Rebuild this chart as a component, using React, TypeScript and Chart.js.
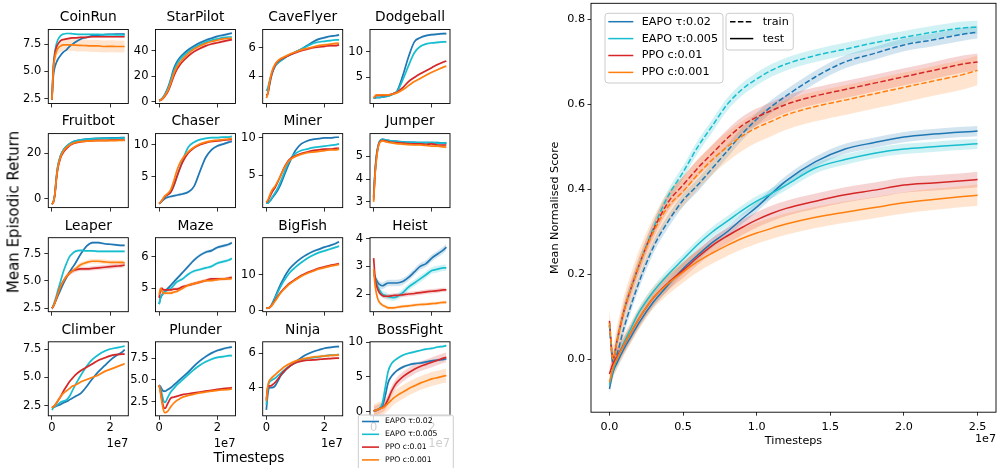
import React, { useEffect, useRef } from 'react';
import { Chart, registerables } from 'chart.js';

Chart.register(...registerables);

const FONT = "'DejaVu Sans', sans-serif";

// ---------- shared ----------
const seriesNames = ['EAPO τ:0.02', 'EAPO τ:0.005', 'PPO c:0.01', 'PPO c:0.001'];
const seriesColors = ['#1f77b4', '#17becf', '#d62728', '#ff7f0e'];
const seriesBands = ['rgba(31,119,180,0.2)', 'rgba(23,190,207,0.2)', 'rgba(214,39,40,0.2)', 'rgba(255,127,14,0.2)'];

// ---------- small multiples (timesteps in millions) ----------
const steps = [0, 0.5, 1, 1.5, 2, 3, 4, 5, 6, 7, 8, 10, 12, 14, 16, 18, 20, 22, 24, 25];
const smallXTickValues = [0, 20];
const smallXTickLabels = ['0', '2'];

const gameNames = ['CoinRun', 'StarPilot', 'CaveFlyer', 'Dodgeball', 'Fruitbot', 'Chaser', 'Miner', 'Jumper',
  'Leaper', 'Maze', 'BigFish', 'Heist', 'Climber', 'Plunder', 'Ninja', 'BossFight'];

// each: [EAPO τ:0.02, EAPO τ:0.005, PPO c:0.01, PPO c:0.001]
const coinRun = [
  [2.4, 4.6, 5.4, 5.8, 6.1, 6.5, 6.8, 7.0, 7.3, 7.5, 7.7, 8.0, 8.15, 8.3, 8.35, 8.4, 8.42, 8.44, 8.45, 8.45],
  [2.4, 5.5, 6.8, 7.5, 7.9, 8.3, 8.45, 8.5, 8.5, 8.48, 8.45, 8.42, 8.42, 8.42, 8.42, 8.4, 8.4, 8.38, 8.38, 8.35],
  [2.4, 5.4, 6.6, 7.2, 7.5, 7.85, 7.95, 8.0, 8.05, 8.1, 8.1, 8.15, 8.15, 8.2, 8.2, 8.2, 8.2, 8.2, 8.2, 8.2],
  [2.4, 5.2, 6.3, 6.8, 7.1, 7.35, 7.45, 7.45, 7.45, 7.45, 7.42, 7.4, 7.38, 7.35, 7.35, 7.3, 7.32, 7.3, 7.3, 7.3],
];
const starPilot = [
  [1, 1.5, 2.5, 4, 6, 11, 18, 26, 31, 34.5, 37, 41, 44, 46.5, 48.5, 50, 51.5, 52.5, 53.5, 54],
  [1, 1.5, 2.5, 4, 5.5, 10, 16.5, 24, 29, 33, 35.5, 39.5, 42.5, 45, 47, 48.5, 49.5, 50.5, 51, 51],
  [1, 1.4, 2, 3, 4.5, 8, 13.5, 20, 25, 28.5, 31.5, 36, 39.5, 42, 44, 45.5, 46.5, 47.5, 48.5, 49],
  [1, 1.5, 2.2, 3.5, 5, 9, 15, 22, 27, 30.5, 33.5, 38, 41.5, 44, 46, 47.5, 48.5, 49.5, 50, 50],
];
const caveFlyer = [
  [2.7, 2.8, 3.3, 3.8, 4.2, 4.7, 4.95, 5.1, 5.25, 5.4, 5.5, 5.7, 5.9, 6.15, 6.4, 6.6, 6.7, 6.8, 6.85, 6.9],
  [3.0, 3.2, 3.6, 4.0, 4.3, 4.75, 4.95, 5.1, 5.25, 5.4, 5.5, 5.7, 5.9, 6.1, 6.3, 6.4, 6.45, 6.5, 6.55, 6.55],
  [2.7, 2.8, 3.4, 3.9, 4.3, 4.8, 5.05, 5.2, 5.3, 5.4, 5.5, 5.65, 5.8, 5.9, 6.0, 6.05, 6.1, 6.15, 6.15, 6.2],
  [2.5, 2.8, 3.5, 4.0, 4.4, 4.85, 5.1, 5.25, 5.35, 5.45, 5.55, 5.7, 5.85, 5.95, 6.05, 6.15, 6.2, 6.25, 6.3, 6.3],
];
const dodgeball = [
  [1, 1.0, 1.1, 1.1, 1.1, 1.2, 1.3, 1.4, 1.6, 1.9, 2.3, 5.3, 9.0, 11.9, 12.7, 13.1, 13.3, 13.4, 13.5, 13.5],
  [1, 1.0, 1.1, 1.1, 1.1, 1.2, 1.3, 1.4, 1.6, 1.9, 2.2, 4.5, 7.3, 9.8, 11.0, 11.5, 11.7, 11.8, 11.9, 11.9],
  [1, 1.3, 1.5, 1.5, 1.5, 1.5, 1.5, 1.6, 1.7, 1.9, 2.1, 3.0, 4.2, 5.0, 5.7, 6.3, 6.9, 7.5, 8.0, 8.2],
  [1, 1.4, 1.6, 1.6, 1.6, 1.6, 1.6, 1.6, 1.7, 1.8, 2.0, 2.6, 3.4, 4.2, 4.8, 5.4, 6.0, 6.5, 7.0, 7.2],
];
const fruitbot = [
  [-2.5, -1.5, 2, 9, 14, 19, 21.5, 23, 24, 24.8, 25.3, 25.8, 26.2, 26.4, 26.5, 26.6, 26.7, 26.7, 26.8, 26.8],
  [-2.5, -1.5, 2, 9, 14, 19, 21.5, 23, 24, 24.8, 25.3, 25.8, 26.1, 26.3, 26.4, 26.5, 26.5, 26.5, 26.6, 26.6],
  [-2.5, -1.5, 1.5, 8, 13, 18, 20.5, 22, 23.2, 24, 24.5, 25, 25.3, 25.5, 25.6, 25.6, 25.7, 25.7, 25.7, 25.7],
  [-2.5, -1.5, 1.8, 8.5, 13.5, 18.5, 21, 22.5, 23.5, 24.2, 24.7, 25.1, 25.3, 25.4, 25.5, 25.5, 25.5, 25.5, 25.6, 25.6],
];
const chaser = [
  [0.8, 1.0, 1.2, 1.4, 1.6, 1.8, 1.9, 2.0, 2.1, 2.2, 2.3, 2.6, 3.5, 5.8, 8.0, 9.2, 9.8, 10.1, 10.4, 10.5],
  [0.8, 1.0, 1.3, 1.6, 1.9, 2.2, 2.6, 3.5, 4.8, 6.2, 7.5, 9.6, 10.4, 10.8, 11.0, 11.1, 11.1, 11.2, 11.2, 11.3],
  [0.8, 1.0, 1.3, 1.6, 1.9, 2.2, 2.6, 3.6, 4.9, 6.1, 7.2, 8.7, 9.5, 10.0, 10.3, 10.5, 10.6, 10.7, 10.8, 10.8],
  [0.8, 1.0, 1.3, 1.7, 2.0, 2.4, 3.0, 4.3, 5.8, 7.0, 7.8, 8.9, 9.6, 10.1, 10.4, 10.6, 10.7, 10.8, 10.9, 11.0],
];
const miner = [
  [1.2, 1.2, 1.4, 1.6, 1.9, 2.4, 3.0, 3.8, 4.8, 5.8, 6.7, 8.3, 9.2, 9.6, 9.8, 9.9, 10.0, 10.0, 10.1, 10.1],
  [1.2, 1.2, 1.4, 1.7, 2.0, 2.6, 3.3, 4.2, 5.2, 6.2, 7.0, 7.9, 8.3, 8.5, 8.7, 8.8, 8.9, 9.0, 9.1, 9.2],
  [1.3, 1.5, 1.9, 2.3, 2.7, 3.3, 4.1, 5.0, 5.9, 6.6, 7.1, 7.6, 7.9, 8.1, 8.3, 8.4, 8.5, 8.5, 8.6, 8.6],
  [1.3, 1.6, 2.1, 2.6, 3.0, 3.5, 4.2, 5.0, 5.8, 6.5, 7.0, 7.5, 7.8, 8.0, 8.1, 8.2, 8.3, 8.4, 8.4, 8.5],
];
const jumper = [
  [3.2, 4.3, 5.0, 5.4, 5.65, 5.75, 5.72, 5.7, 5.68, 5.67, 5.66, 5.64, 5.62, 5.62, 5.6, 5.6, 5.6, 5.6, 5.58, 5.58],
  [3.2, 4.4, 5.1, 5.45, 5.65, 5.75, 5.72, 5.7, 5.68, 5.67, 5.65, 5.63, 5.62, 5.6, 5.6, 5.6, 5.6, 5.58, 5.58, 5.6],
  [3.1, 4.3, 5.0, 5.4, 5.6, 5.7, 5.68, 5.65, 5.62, 5.6, 5.6, 5.58, 5.56, 5.55, 5.55, 5.52, 5.55, 5.5, 5.5, 5.5],
  [3.0, 4.2, 4.9, 5.35, 5.58, 5.68, 5.65, 5.62, 5.6, 5.58, 5.56, 5.54, 5.52, 5.5, 5.5, 5.48, 5.45, 5.45, 5.42, 5.4],
];
const leaper = [
  [2.5, 2.7, 3.0, 3.3, 3.6, 4.2, 4.8, 5.3, 5.8, 6.2, 6.6, 7.5, 8.2, 8.5, 8.5, 8.4, 8.35, 8.3, 8.25, 8.25],
  [2.5, 2.8, 3.2, 3.6, 4.1, 5.0, 5.9, 6.6, 7.2, 7.5, 7.7, 7.8, 7.75, 7.75, 7.7, 7.7, 7.7, 7.7, 7.7, 7.7],
  [2.5, 2.7, 3.0, 3.4, 3.8, 4.5, 5.0, 5.4, 5.7, 5.9, 6.0, 6.1, 6.1, 6.15, 6.2, 6.25, 6.3, 6.35, 6.4, 6.45],
  [2.5, 2.7, 3.0, 3.4, 3.8, 4.5, 5.0, 5.4, 5.7, 5.9, 6.1, 6.5, 6.7, 6.8, 6.8, 6.75, 6.7, 6.7, 6.7, 6.65],
];
const maze = [
  [4.5, 4.7, 4.8, 4.85, 4.9, 5.0, 5.1, 5.2, 5.3, 5.4, 5.5, 5.7, 5.9, 6.05, 6.15, 6.2, 6.3, 6.35, 6.4, 6.45],
  [4.5, 4.7, 4.8, 4.85, 4.9, 4.95, 5.0, 5.1, 5.2, 5.25, 5.3, 5.45, 5.55, 5.6, 5.65, 5.7, 5.8, 5.85, 5.9, 5.95],
  [4.7, 4.95, 5.0, 4.95, 4.95, 4.95, 4.95, 4.98, 4.98, 5.0, 5.05, 5.1, 5.15, 5.2, 5.25, 5.3, 5.3, 5.3, 5.33, 5.35],
  [4.8, 5.0, 4.9, 4.85, 4.85, 4.85, 4.85, 4.88, 4.9, 4.95, 5.0, 5.1, 5.15, 5.2, 5.25, 5.25, 5.28, 5.3, 5.3, 5.32],
];
const bigFish = [
  [0.8, 0.8, 0.9, 1.3, 2.0, 3.8, 5.7, 7.5, 9.0, 10.4, 11.6, 13.2, 14.5, 15.5, 16.3, 16.9, 17.5, 18.0, 18.6, 19.0],
  [0.8, 0.8, 0.9, 1.3, 1.9, 3.5, 5.2, 6.8, 8.2, 9.4, 10.5, 12.0, 13.3, 14.4, 15.3, 16.0, 16.5, 17.0, 17.5, 17.8],
  [0.8, 0.8, 0.9, 1.2, 1.7, 2.9, 4.1, 5.2, 6.1, 6.9, 7.6, 8.7, 9.7, 10.5, 11.1, 11.7, 12.1, 12.5, 12.8, 13.0],
  [0.8, 0.8, 0.9, 1.2, 1.6, 2.7, 3.9, 5.0, 5.9, 6.7, 7.4, 8.5, 9.5, 10.3, 10.9, 11.5, 11.9, 12.3, 12.6, 12.8],
];
const heist = [
  [2.7, 2.6, 2.5, 2.4, 2.35, 2.3, 2.35, 2.4, 2.4, 2.4, 2.4, 2.45, 2.6, 2.8, 3.0, 3.1, 3.3, 3.45, 3.6, 3.7],
  [2.8, 2.6, 2.4, 2.25, 2.15, 2.0, 1.95, 1.9, 1.88, 1.87, 1.9, 2.05, 2.25, 2.4, 2.55, 2.7, 2.85, 2.9, 2.95, 2.95],
  [3.3, 2.6, 2.3, 2.15, 2.05, 1.95, 1.92, 1.92, 1.93, 1.95, 1.95, 1.97, 2.0, 2.02, 2.05, 2.08, 2.1, 2.12, 2.15, 2.15],
  [2.9, 2.3, 2.0, 1.8, 1.7, 1.6, 1.55, 1.5, 1.5, 1.5, 1.52, 1.55, 1.57, 1.6, 1.62, 1.63, 1.65, 1.67, 1.7, 1.7],
];
const climber = [
  [2.3, 2.35, 2.4, 2.45, 2.5, 2.6, 2.75, 2.85, 3.0, 3.15, 3.3, 3.6, 4.2, 4.9, 5.5, 6.0, 6.5, 6.9, 7.2, 7.45],
  [2.1, 2.3, 2.4, 2.5, 2.6, 2.8, 2.9, 3.0, 3.3, 3.8, 4.3, 5.2, 6.0, 6.6, 7.0, 7.3, 7.5, 7.6, 7.7, 7.75],
  [2.3, 2.4, 2.5, 2.7, 2.9, 3.3, 3.8, 4.2, 4.6, 4.9, 5.2, 5.6, 5.9, 6.2, 6.5, 6.7, 6.9, 7.0, 7.05, 7.05],
  [2.3, 2.4, 2.5, 2.7, 2.9, 3.3, 3.6, 3.8, 4.0, 4.2, 4.3, 4.6, 4.8, 5.0, 5.2, 5.5, 5.7, 5.9, 6.1, 6.2],
];
const plunder = [
  [4.4, 4.2, 3.9, 3.7, 3.7, 3.9, 4.1, 4.4, 4.7, 5.0, 5.3, 5.9, 6.6, 7.2, 7.7, 8.1, 8.4, 8.6, 8.75, 8.8],
  [4.4, 4.0, 3.3, 2.6, 2.4, 3.0, 3.6, 4.0, 4.4, 4.7, 5.0, 5.6, 6.2, 6.7, 7.1, 7.4, 7.6, 7.7, 7.8, 7.8],
  [4.4, 3.6, 2.6, 1.9, 1.7, 2.3, 2.9, 3.0, 3.1, 3.2, 3.3, 3.4, 3.5, 3.6, 3.7, 3.8, 3.9, 4.0, 4.05, 4.1],
  [4.4, 3.4, 2.3, 1.5, 1.2, 1.4, 1.9, 2.3, 2.6, 2.8, 3.0, 3.2, 3.35, 3.5, 3.6, 3.7, 3.8, 3.85, 3.9, 3.95],
];
const ninja = [
  [2.7, 3.6, 4.0, 4.0, 4.0, 4.1, 4.4, 4.7, 4.9, 5.1, 5.25, 5.5, 5.75, 5.95, 6.1, 6.2, 6.3, 6.35, 6.4, 6.4],
  [3.0, 4.0, 4.3, 4.4, 4.45, 4.55, 4.7, 4.85, 5.0, 5.15, 5.25, 5.45, 5.6, 5.7, 5.75, 5.8, 5.85, 5.9, 5.9, 5.95],
  [3.3, 4.0, 4.1, 4.1, 4.15, 4.3, 4.5, 4.75, 4.95, 5.1, 5.25, 5.45, 5.55, 5.6, 5.62, 5.65, 5.68, 5.7, 5.72, 5.72],
  [3.2, 4.1, 4.4, 4.5, 4.6, 4.75, 4.9, 5.05, 5.2, 5.3, 5.4, 5.55, 5.65, 5.72, 5.78, 5.82, 5.85, 5.88, 5.9, 5.92],
];
const bossFight = [
  [0.1, 0.15, 0.2, 0.3, 0.4, 0.8, 2.3, 4.2, 5.0, 5.5, 5.9, 6.4, 6.7, 6.9, 7.0, 7.15, 7.3, 7.4, 7.5, 7.6],
  [0.1, 0.15, 0.2, 0.3, 0.4, 1.2, 3.5, 5.8, 6.8, 7.3, 7.6, 8.1, 8.4, 8.6, 8.8, 9.0, 9.1, 9.3, 9.4, 9.5],
  [0.1, 0.15, 0.2, 0.3, 0.4, 0.6, 1.0, 1.8, 2.8, 3.6, 4.2, 5.0, 5.6, 6.1, 6.5, 6.8, 7.1, 7.4, 7.7, 7.8],
  [0.1, 0.15, 0.2, 0.3, 0.4, 0.5, 0.8, 1.2, 1.6, 2.0, 2.3, 2.8, 3.3, 3.7, 4.1, 4.4, 4.7, 4.9, 5.1, 5.2],
];
const gameValues = [coinRun, starPilot, caveFlyer, dodgeball, fruitbot, chaser, miner, jumper,
  leaper, maze, bigFish, heist, climber, plunder, ninja, bossFight];

// half-width of the shaded band, per series
const gameSpreads = [
  [0.08, 0.06, 0.08, 0.55], [1, 1, 1, 1], [0.08, 0.08, 0.08, 0.08], [0.2, 0.2, 0.15, 0.15],
  [0.4, 0.4, 0.4, 0.4], [0.2, 0.15, 0.15, 0.15], [0.1, 0.1, 0.15, 0.15], [0.04, 0.04, 0.04, 0.05],
  [0.1, 0.1, 0.2, 0.2], [0.05, 0.05, 0.05, 0.05], [0.3, 0.3, 0.3, 0.3], [0.12, 0.12, 0.08, 0.06],
  [0.08, 0.08, 0.1, 0.08], [0.15, 0.15, 0.1, 0.1], [0.06, 0.06, 0.06, 0.08], [0.2, 0.15, 0.7, 1.0],
];
const gameYLimits = [
  [2.04, 8.87], [-1.3, 56.9], [2.12, 7.27], [-0.06, 14.3],
  [-4, 28.6], [0.17, 11.74], [0.6, 10.59], [2.75, 6.0],
  [2.19, 8.95], [4.26, 6.61], [-0.2, 20.1], [1.36, 4.04],
  [1.59, 8.14], [0.85, 9.41], [2.35, 6.68], [-0.61, 10.05],
];
const gameYTickLabels = [
  ['2.5', '5.0', '7.5'], ['0', '20', '40'], ['4', '6'], ['5', '10'],
  ['0', '20'], ['5', '10'], ['5', '10'], ['3', '4', '5'],
  ['2.5', '5.0', '7.5'], ['5', '6'], ['0', '10'], ['2', '3', '4'],
  ['2.5', '5.0', '7.5'], ['2.5', '5.0', '7.5'], ['4', '6'], ['0', '5', '10'],
];

// ---------- big chart ----------
const bigSteps = [0, 0.25, 0.5, 1, 1.5, 2, 3, 4, 5, 6, 7, 8, 9, 10, 11, 12, 14, 16, 18, 20, 22, 24, 25];
const trainValues = [
  [0.08, -0.01, 0.01, 0.075, 0.13, 0.18, 0.265, 0.325, 0.374, 0.41, 0.45, 0.49, 0.53, 0.565, 0.595, 0.62, 0.665, 0.70, 0.72, 0.74, 0.752, 0.765, 0.77],
  [0.08, 0.0, 0.04, 0.115, 0.17, 0.22, 0.31, 0.385, 0.44, 0.50, 0.55, 0.60, 0.635, 0.66, 0.68, 0.695, 0.715, 0.73, 0.745, 0.758, 0.77, 0.78, 0.782],
  [0.09, 0.0, 0.04, 0.115, 0.17, 0.22, 0.305, 0.37, 0.41, 0.45, 0.485, 0.52, 0.55, 0.57, 0.585, 0.60, 0.62, 0.635, 0.65, 0.665, 0.68, 0.695, 0.70],
  [0.085, 0.0, 0.04, 0.115, 0.17, 0.22, 0.30, 0.36, 0.395, 0.435, 0.47, 0.50, 0.525, 0.545, 0.56, 0.575, 0.595, 0.61, 0.625, 0.64, 0.655, 0.67, 0.68],
];
const testValues = [
  [-0.07, -0.03, -0.01, 0.025, 0.055, 0.085, 0.135, 0.175, 0.213, 0.245, 0.275, 0.30, 0.33, 0.358, 0.39, 0.42, 0.465, 0.495, 0.51, 0.523, 0.53, 0.535, 0.537],
  [-0.06, -0.025, 0.0, 0.04, 0.075, 0.11, 0.16, 0.2, 0.235, 0.27, 0.30, 0.325, 0.35, 0.372, 0.39, 0.41, 0.45, 0.47, 0.485, 0.495, 0.50, 0.505, 0.507],
  [-0.035, -0.01, 0.005, 0.035, 0.065, 0.095, 0.145, 0.18, 0.209, 0.24, 0.268, 0.29, 0.31, 0.328, 0.343, 0.355, 0.372, 0.387, 0.398, 0.41, 0.415, 0.42, 0.423],
  [-0.055, -0.02, 0.0, 0.035, 0.065, 0.095, 0.145, 0.178, 0.205, 0.23, 0.25, 0.268, 0.284, 0.297, 0.308, 0.318, 0.334, 0.346, 0.357, 0.368, 0.376, 0.383, 0.386],
];
const trainSpreads = [0.015, 0.015, 0.02, 0.035];
const testSpreads = [0.012, 0.012, 0.018, 0.025];
const bigXTickValues = [0, 5, 10, 15, 20, 25];
const bigXTickLabels = ['0.0', '0.5', '1.0', '1.5', '2.0', '2.5'];
const bigYTickValues = [0, 0.2, 0.4, 0.6, 0.8];
const bigYTickLabels = ['0.0', '0.2', '0.4', '0.6', '0.8'];

// ---------- layout ----------
const COL_LEFT = [48.3, 155.5, 262.7, 370];
const ROW_TOP = [29.5, 133.6, 237.7, 341.8];
const BOX_W = 80;
const BOX_H = 74;

function rr(ctx: CanvasRenderingContext2D, x: number, y: number, w: number, h: number, r: number) {
  ctx.beginPath();
  ctx.moveTo(x + r, y);
  ctx.lineTo(x + w - r, y);
  ctx.arcTo(x + w, y, x + w, y + r, r);
  ctx.lineTo(x + w, y + h - r);
  ctx.arcTo(x + w, y + h, x + w - r, y + h, r);
  ctx.lineTo(x + r, y + h);
  ctx.arcTo(x, y + h, x, y + h - r, r);
  ctx.lineTo(x, y + r);
  ctx.arcTo(x, y, x + r, y, r);
  ctx.closePath();
}

function buildDatasets(xs: number[], lines: number[][], spreads: number[], lw: number, dash: number[] | null, orderBase: number) {
  const bands: any[] = [];
  const ls: any[] = [];
  lines.forEach((vals, s) => {
    const lower = xs.map((x, i) => ({ x, y: vals[i] - spreads[s] }));
    const upper = xs.map((x, i) => ({ x, y: vals[i] + spreads[s] }));
    bands.push({ data: lower, borderWidth: 0, pointRadius: 0, fill: false, cubicInterpolationMode: 'monotone', order: 100 + orderBase + (4 - s) });
    bands.push({ data: upper, borderWidth: 0, pointRadius: 0, fill: '-1', backgroundColor: seriesBands[s], cubicInterpolationMode: 'monotone', order: 100 + orderBase + (4 - s) });
    ls.push({
      data: xs.map((x, i) => ({ x, y: vals[i] })), borderColor: seriesColors[s], borderWidth: lw,
      borderDash: dash || [], pointRadius: 0, fill: false, cubicInterpolationMode: 'monotone',
      order: orderBase + (4 - s),
    });
  });
  return { bands, lines: ls };
}

function axisCommon(size: number, tickLength: number, padding: number) {
  return {
    type: 'linear' as const,
    grid: { drawOnChartArea: false, drawTicks: true, tickLength, color: '#000', lineWidth: 0.8 },
    border: { display: false },
    ticks: { font: { family: FONT, size }, color: '#000', padding, autoSkip: false, maxRotation: 0, minRotation: 0 },
  };
}

function SmallPanel({ index }: { index: number }) {
  const ref = useRef<HTMLCanvasElement>(null);
  const row = Math.floor(index / 4);
  const col = index % 4;
  const boxL = COL_LEFT[col];
  const boxT = ROW_TOP[row];
  const left = Math.floor(boxL - 36);
  const top = Math.floor(boxT - 24);
  const padL = boxL - left;
  const padT = boxT - top;
  const w = Math.ceil(padL + BOX_W + 6);
  const padR = w - padL - BOX_W;
  const h = row === 3 ? 468 - top : Math.ceil(padT + BOX_H + 8);
  const padB = h - padT - BOX_H;

  useEffect(() => {
    const vals = gameValues[index];
    const { bands, lines } = buildDatasets(steps, vals, gameSpreads[index], 1.7, null, 0);
    const yLabels = gameYTickLabels[index];
    const lim = gameYLimits[index];
    const title = gameNames[index];
    const isBoss = index === 15;
    const decor = {
      id: 'decor' + index,
      afterDraw(chart: any) {
        const { ctx, chartArea: a } = chart;
        ctx.save();
        ctx.strokeStyle = '#000';
        ctx.lineWidth = 0.9;
        ctx.strokeRect(a.left, a.top, a.right - a.left, a.bottom - a.top);
        ctx.fillStyle = '#000';
        ctx.font = `13.8px ${FONT}`;
        ctx.textAlign = 'center';
        ctx.textBaseline = 'middle';
        ctx.fillText(title, (a.left + a.right) / 2, a.top - 11.7);
        if (row === 3) {
          ctx.font = `11.5px ${FONT}`;
          ctx.textAlign = 'right';
          ctx.fillText('1e7', a.right, a.bottom + 28.5);
        }
        if (isBoss) {
          const ox = left, oy = top;
          rr(ctx, 358.3 - ox, 415 - oy, 95, 60, 2);
          ctx.fillStyle = 'rgba(255,255,255,0.8)';
          ctx.fill();
          ctx.strokeStyle = '#cccccc';
          ctx.lineWidth = 1;
          ctx.stroke();
          ctx.font = `7.7px ${FONT}`;
          ctx.textAlign = 'left';
          seriesNames.forEach((name, s) => {
            const yy = 421.5 + s * 12.8 - oy;
            ctx.strokeStyle = seriesColors[s];
            ctx.lineWidth = 1.6;
            ctx.beginPath();
            ctx.moveTo(362 - ox, yy);
            ctx.lineTo(379 - ox, yy);
            ctx.stroke();
            ctx.fillStyle = '#000';
            ctx.fillText(name, 385 - ox, yy);
          });
        }
        ctx.restore();
      },
    };
    const xAx: any = axisCommon(11.5, 4, 1.5);
    xAx.min = -1.25;
    xAx.max = 26.25;
    xAx.afterBuildTicks = (s: any) => { s.ticks = smallXTickValues.map((v) => ({ value: v })); };
    xAx.afterFit = (s: any) => { s.height = padB; s.paddingLeft = 0; s.paddingRight = 0; };
    xAx.ticks.callback = (_v: any, i: number) => (row === 3 ? smallXTickLabels[i] : '');
    const yAx: any = axisCommon(11.5, 4, 3);
    yAx.min = lim[0];
    yAx.max = lim[1];
    yAx.afterBuildTicks = (s: any) => { s.ticks = yLabels.map((l) => ({ value: parseFloat(l) })); };
    yAx.afterFit = (s: any) => { s.width = padL; s.paddingTop = 0; s.paddingBottom = 0; };
    yAx.ticks.callback = (_v: any, i: number) => yLabels[i];
    const chart = new Chart(ref.current as HTMLCanvasElement, {
      type: 'line',
      data: { datasets: [...bands, ...lines] },
      options: {
        responsive: false,
        animation: false,
        events: [],
        layout: { padding: { top: padT, right: padR, left: 0, bottom: 0 } },
        plugins: { legend: { display: false }, tooltip: { enabled: false }, title: { display: false } },
        scales: { x: xAx, y: yAx },
      } as any,
      plugins: [decor],
    });
    return () => chart.destroy();
  }, []);

  return <canvas ref={ref} width={w} height={h} style={{ position: 'absolute', left, top, width: w, height: h }} />;
}

function BigPanel() {
  const ref = useRef<HTMLCanvasElement>(null);
  const left = 541;
  const top = 0;
  const w = 998 - left;
  const h = 468;
  const padL = 591 - left;
  const padT = 3.3;
  const padR = w - (996 - left);
  const padB = h - 412.2;

  useEffect(() => {
    const train = buildDatasets(bigSteps, trainValues, trainSpreads, 1.5, [5.5, 2.4], 10);
    const test = buildDatasets(bigSteps, testValues, testSpreads, 1.5, null, 0);
    const decor = {
      id: 'bigDecor',
      afterDraw(chart: any) {
        const { ctx, chartArea: a } = chart;
        ctx.save();
        ctx.strokeStyle = '#000';
        ctx.lineWidth = 0.9;
        ctx.strokeRect(a.left, a.top, a.right - a.left, a.bottom - a.top);
        ctx.fillStyle = '#000';
        ctx.font = `11.2px ${FONT}`;
        ctx.textAlign = 'center';
        ctx.textBaseline = 'middle';
        ctx.fillText('Timesteps', (a.left + a.right) / 2, 440.7);
        ctx.textAlign = 'right';
        ctx.fillText('1e7', a.right, 439.3);
        ctx.save();
        ctx.translate(555 - left, (a.top + a.bottom) / 2);
        ctx.rotate(-Math.PI / 2);
        ctx.textAlign = 'center';
        ctx.fillText('Mean Normalised Score', 0, 0);
        ctx.restore();
        // legend 1 (series)
        rr(ctx, 605 - left, 13.3, 118, 69.7, 3);
        ctx.fillStyle = 'rgba(255,255,255,0.8)';
        ctx.fill();
        ctx.strokeStyle = '#cccccc';
        ctx.lineWidth = 1;
        ctx.stroke();
        ctx.textAlign = 'left';
        seriesNames.forEach((name, s) => {
          const yy = 21.7 + s * 16.9;
          ctx.strokeStyle = seriesColors[s];
          ctx.lineWidth = 1.5;
          ctx.beginPath();
          ctx.moveTo(608.3 - left, yy);
          ctx.lineTo(633.3 - left, yy);
          ctx.stroke();
          ctx.fillStyle = '#000';
          ctx.fillText(name, 641.7 - left, yy);
        });
        // legend 2 (line styles)
        rr(ctx, 726 - left, 13.3, 67.3, 36.7, 3);
        ctx.fillStyle = 'rgba(255,255,255,0.8)';
        ctx.fill();
        ctx.strokeStyle = '#cccccc';
        ctx.lineWidth = 1;
        ctx.stroke();
        ['train', 'test'].forEach((name, k) => {
          const yy = 21.7 + k * 16.9;
          ctx.strokeStyle = '#000';
          ctx.lineWidth = 1.5;
          ctx.setLineDash(k === 0 ? [5.5, 2.4] : []);
          ctx.beginPath();
          ctx.moveTo(730 - left, yy);
          ctx.lineTo(753.3 - left, yy);
          ctx.stroke();
          ctx.setLineDash([]);
          ctx.fillStyle = '#000';
          ctx.fillText(name, 762.7 - left, yy);
        });
        ctx.restore();
      },
    };
    const xAx: any = axisCommon(11.2, 3.5, 4.5);
    xAx.min = -1.25;
    xAx.max = 26.25;
    xAx.afterBuildTicks = (s: any) => { s.ticks = bigXTickValues.map((v) => ({ value: v })); };
    xAx.afterFit = (s: any) => { s.height = padB; s.paddingLeft = 0; s.paddingRight = 0; };
    xAx.ticks.callback = (_v: any, i: number) => bigXTickLabels[i];
    const yAx: any = axisCommon(11.2, 3.5, 2.5);
    yAx.min = -0.125;
    yAx.max = 0.838;
    yAx.afterBuildTicks = (s: any) => { s.ticks = bigYTickValues.map((v) => ({ value: v })); };
    yAx.afterFit = (s: any) => { s.width = padL; s.paddingTop = 0; s.paddingBottom = 0; };
    yAx.ticks.callback = (_v: any, i: number) => bigYTickLabels[i];
    const chart = new Chart(ref.current as HTMLCanvasElement, {
      type: 'line',
      data: { datasets: [...train.bands, ...test.bands, ...train.lines, ...test.lines] },
      options: {
        responsive: false,
        animation: false,
        events: [],
        layout: { padding: { top: padT, right: padR, left: 0, bottom: 0 } },
        plugins: { legend: { display: false }, tooltip: { enabled: false }, title: { display: false } },
        scales: { x: xAx, y: yAx },
      } as any,
      plugins: [decor],
    });
    return () => chart.destroy();
  }, []);

  return <canvas ref={ref} width={w} height={h} style={{ position: 'absolute', left, top, width: w, height: h }} />;
}

export default function App() {
  return (
    <div style={{ position: 'absolute', left: 0, top: 0, width: 998, height: 468, background: '#fff', overflow: 'hidden', fontFamily: FONT }}>
      {gameNames.map((_, i) => <SmallPanel key={i} index={i} />)}
      <BigPanel />
      <div style={{ position: 'absolute', left: 14, top: 212, transform: 'translate(-50%, -50%) rotate(-90deg)', fontSize: 15, lineHeight: 1, whiteSpace: 'nowrap', color: '#000' }}>
        Mean Episodic Return
      </div>
      <div style={{ position: 'absolute', left: 249, top: 458, transform: 'translate(-50%, -50%)', fontSize: 13.8, lineHeight: 1, whiteSpace: 'nowrap', color: '#000' }}>
        Timesteps
      </div>
    </div>
  );
}
